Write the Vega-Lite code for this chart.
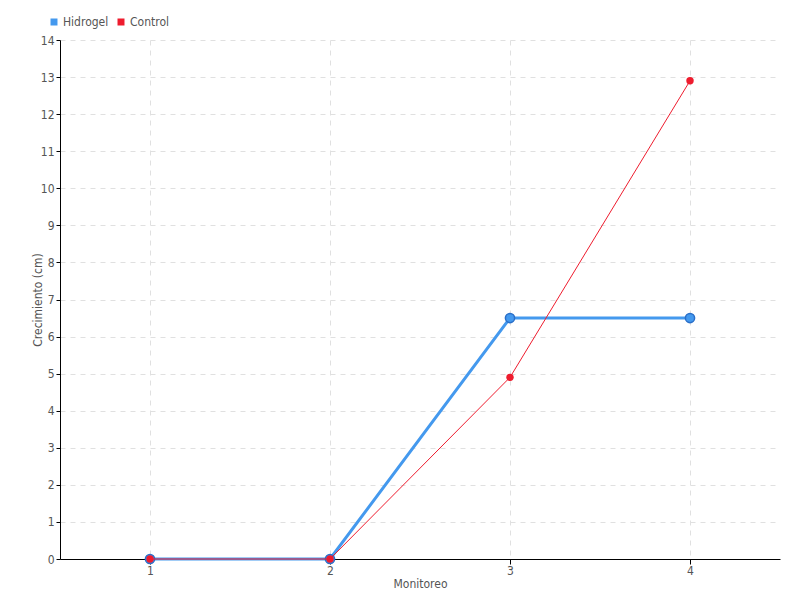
{
  "$schema": "https://vega.github.io/schema/vega-lite/v6.json",
  "width": 720,
  "height": 519,
  "autosize": "none",
  "padding": {"left": 60, "top": 40, "right": 20, "bottom": 41},
  "background": "white",
  "config": {
    "font": "DejaVu Sans Condensed, Roboto, sans-serif",
    "view": {"stroke": null},
    "axis": {
      "labelFont": "DejaVu Sans Condensed, Roboto, sans-serif",
      "titleFont": "DejaVu Sans Condensed, Roboto, sans-serif",
      "labelFontSize": 12,
      "titleFontSize": 12,
      "titleFontWeight": "normal",
      "labelColor": "#555",
      "titleColor": "#555",
      "domainColor": "#000",
      "tickColor": "#000",
      "gridColor": "#e0e0e0",
      "gridDash": [5, 5]
    },
    "legend": {"labelFont": "DejaVu Sans Condensed, Roboto, sans-serif", "labelFontSize": 12, "labelColor": "#555"}
  },
  "data": {
    "values": [
      {"monitoreo": "1", "serie": "Hidrogel", "valor": 0},
      {"monitoreo": "2", "serie": "Hidrogel", "valor": 0},
      {"monitoreo": "3", "serie": "Hidrogel", "valor": 6.5},
      {"monitoreo": "4", "serie": "Hidrogel", "valor": 6.5},
      {"monitoreo": "1", "serie": "Control", "valor": 0},
      {"monitoreo": "2", "serie": "Control", "valor": 0},
      {"monitoreo": "3", "serie": "Control", "valor": 4.9},
      {"monitoreo": "4", "serie": "Control", "valor": 12.9}
    ]
  },
  "encoding": {
    "x": {
      "field": "monitoreo",
      "type": "ordinal",
      "scale": {"type": "point", "padding": 0.5},
      "axis": {"title": "Monitoreo", "labelAngle": 0, "grid": true, "tickSize": 5, "labelPadding": 1, "titlePadding": 2}
    },
    "y": {
      "field": "valor",
      "type": "quantitative",
      "scale": {"domain": [0, 14], "nice": false},
      "axis": {"title": "Crecimiento (cm)", "values": [0,1,2,3,4,5,6,7,8,9,10,11,12,13,14], "grid": true, "tickSize": 4, "labelPadding": 2, "titlePadding": 0, "titleX": -16}
    },
    "color": {
      "field": "serie",
      "type": "nominal",
      "scale": {"domain": ["Hidrogel", "Control"], "range": ["#4499ee", "#ee1c2e"]},
      "legend": {
        "title": null,
        "orient": "none",
        "legendX": -12,
        "legendY": -24,
        "direction": "horizontal",
        "symbolType": "square",
        "symbolSize": 30,
        "symbolOffset": 0,
        "columnPadding": 6,
        "labelOffset": 3
      }
    }
  },
  "layer": [
    {
      "transform": [{"filter": "datum.serie === 'Hidrogel'"}],
      "mark": {"type": "line", "strokeWidth": 3}
    },
    {
      "transform": [{"filter": "datum.serie === 'Hidrogel'"}],
      "mark": {"type": "point", "filled": true, "size": 85, "stroke": "#2a6fc9", "strokeWidth": 1.5, "opacity": 1}
    },
    {
      "transform": [{"filter": "datum.serie === 'Control'"}],
      "mark": {"type": "line", "strokeWidth": 1}
    },
    {
      "transform": [{"filter": "datum.serie === 'Control'"}],
      "mark": {"type": "point", "filled": true, "size": 55, "opacity": 1}
    }
  ]
}
